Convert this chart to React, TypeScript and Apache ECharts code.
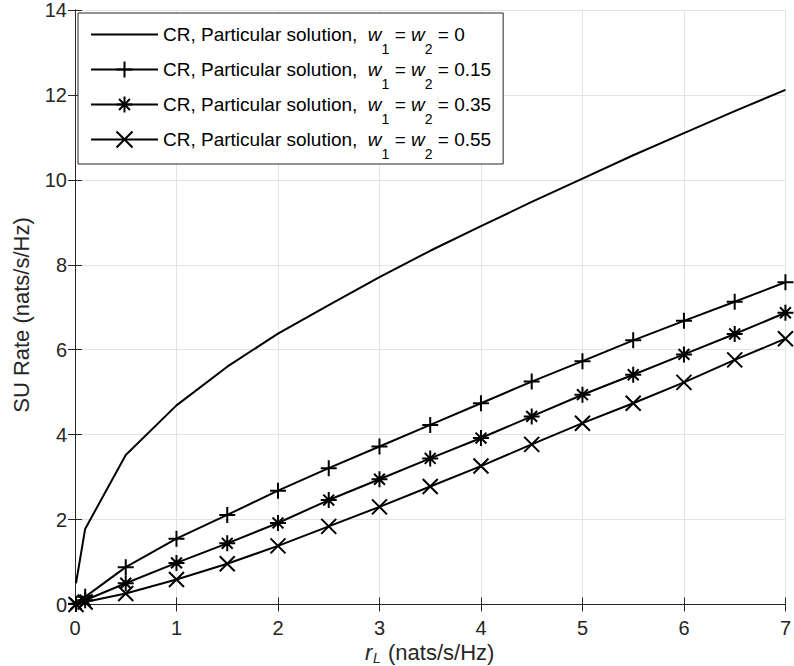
import React, { useEffect, useRef } from 'react';
import * as echarts from 'echarts';

// ---- data ----
const xValues = [0.01, 0.1, 0.5, 1, 1.5, 2, 2.5, 3, 3.5, 4, 4.5, 5, 5.5, 6, 6.5, 7];
const weights = ['0', '0.15', '0.35', '0.55'];
const rateW000 = [0.5, 1.78, 3.52, 4.69, 5.6, 6.38, 7.05, 7.71, 8.33, 8.91, 9.48, 10.03, 10.58, 11.1, 11.62, 12.12];
const rateW015 = [0.02, 0.18, 0.88, 1.55, 2.11, 2.68, 3.21, 3.72, 4.23, 4.74, 5.25, 5.73, 6.22, 6.68, 7.13, 7.59];
const rateW035 = [0.01, 0.1, 0.5, 0.98, 1.44, 1.92, 2.46, 2.95, 3.44, 3.92, 4.43, 4.94, 5.41, 5.89, 6.37, 6.87];
const rateW055 = [0.0, 0.06, 0.26, 0.59, 0.96, 1.38, 1.84, 2.3, 2.78, 3.26, 3.77, 4.27, 4.74, 5.23, 5.76, 6.26];
const xTicks = { min: 0, max: 7, interval: 1 };
const yTicks = { min: 0, max: 14, interval: 2 };

const FONT = "'Liberation Sans', Arial, Helvetica, sans-serif";
const INK = '#262626';
const GRID = '#e3e3e3';

const plusPath = 'path://M5,0L5,10M0,5L10,5';
const starPath = 'path://M5,0L5,10M0,5L10,5M1.6,1.6L8.4,8.4M1.6,8.4L8.4,1.6';
const crossPath = 'path://M0,0L10,10M0,10L10,0';

const seriesDefs = [
  { name: weights[0], values: rateW000, symbol: 'none', size: 0 },
  { name: weights[1], values: rateW015, symbol: plusPath, size: 16 },
  { name: weights[2], values: rateW035, symbol: starPath, size: 16 },
  { name: weights[3], values: rateW055, symbol: crossPath, size: 15 },
];

export default function App() {
  const ref = useRef<HTMLDivElement>(null);
  useEffect(() => {
    document.body.style.margin = '0';
    if (!ref.current) return;
    const chart = echarts.init(ref.current, undefined, { renderer: 'svg' });
    const axisCommon = {
      type: 'value' as const,
      axisLine: { show: true, lineStyle: { color: INK, width: 1 } },
      axisTick: { show: true, inside: true, length: 7, lineStyle: { color: INK, width: 1 } },
    };
    const markerStyle = { color: 'transparent', borderColor: '#000', borderWidth: 2 };
    chart.setOption({
      animation: false,
      backgroundColor: '#fff',
      grid: { left: 75, right: 1.7, top: 9.5, bottom: 61.5, containLabel: false },
      xAxis: [
        {
          ...axisCommon,
          position: 'bottom',
          ...xTicks,
          axisLabel: { show: true, margin: 15.5, lineHeight: 16, fontFamily: FONT, fontSize: 20, color: INK },
          splitLine: { show: true, lineStyle: { color: GRID, width: 1 } },
        },
        {
          ...axisCommon,
          position: 'top',
          ...xTicks,
          axisLabel: { show: false },
          splitLine: { show: false },
        },
      ],
      yAxis: [
        {
          ...axisCommon,
          position: 'left',
          ...yTicks,
          axisLabel: { show: true, margin: 8, fontFamily: FONT, fontSize: 20, color: INK },
          splitLine: { show: true, lineStyle: { color: GRID, width: 1 } },
        },
        {
          ...axisCommon,
          position: 'right',
          ...yTicks,
          axisLabel: { show: false },
          splitLine: { show: false },
        },
      ],
      legend: {
        orient: 'vertical',
        left: 78,
        top: 13,
        itemWidth: 67,
        itemHeight: 20,
        itemGap: -8,
        padding: [0, 12, 3, 12],
        backgroundColor: '#fff',
        borderColor: INK,
        borderWidth: 1,
        selectedMode: false,
        data: [
          { name: weights[0], itemStyle: { color: 'transparent', borderColor: 'transparent', borderWidth: 0 } },
          weights[1],
          weights[2],
          weights[3],
        ],
        itemStyle: markerStyle,
        lineStyle: { color: '#000', width: 2 },
        formatter: (name: string) =>
          `CR, Particular solution,  {i|w}{s|1} = {i|w}{s|2} = ${name}`,
        textStyle: {
          fontFamily: FONT,
          fontSize: 19,
          color: '#000',
          lineHeight: 43,
          rich: {
            i: { fontFamily: FONT, fontSize: 19, fontStyle: 'italic', color: '#000', lineHeight: 43 },
            s: { fontFamily: FONT, fontSize: 14, color: '#000', lineHeight: 14, verticalAlign: 'bottom' },
          },
        },
      },
      graphic: [
        {
          type: 'text',
          x: 365,
          y: 652,
          silent: true,
          style: { text: 'r', align: 'left', verticalAlign: 'middle', fontFamily: FONT, fontSize: 22, fontStyle: 'italic', lineHeight: 18, fill: INK },
        },
        {
          type: 'text',
          x: 373,
          y: 657.5,
          silent: true,
          style: { text: 'L', align: 'left', verticalAlign: 'middle', fontFamily: FONT, fontSize: 14, fontStyle: 'italic', lineHeight: 10, fill: INK },
        },
        {
          type: 'text',
          x: 388,
          y: 652,
          silent: true,
          style: { text: '(nats/s/Hz)', align: 'left', verticalAlign: 'middle', fontFamily: FONT, fontSize: 22, lineHeight: 18, fill: INK },
        },
        {
          type: 'text',
          x: 21.5,
          y: 315,
          rotation: Math.PI / 2,
          silent: true,
          style: {
            text: 'SU Rate (nats/s/Hz)',
            align: 'center',
            verticalAlign: 'middle',
            fontFamily: FONT,
            fontSize: 22,
            fill: INK,
          },
        },
      ],
      series: seriesDefs.map((d, k) => ({
        type: 'line',
        name: d.name,
        xAxisIndex: 0,
        yAxisIndex: 0,
        data: xValues.map((x, i) => [x, d.values[i]]),
        symbol: d.symbol,
        symbolSize: d.size,
        showSymbol: d.symbol !== 'none',
        clip: false,
        z: 3 + k,
        lineStyle: { color: '#000', width: 2 },
        itemStyle: markerStyle,
        emphasis: { disabled: true },
      })),
    });
    return () => chart.dispose();
  }, []);
  return <div ref={ref} style={{ width: 794, height: 666 }} />;
}
